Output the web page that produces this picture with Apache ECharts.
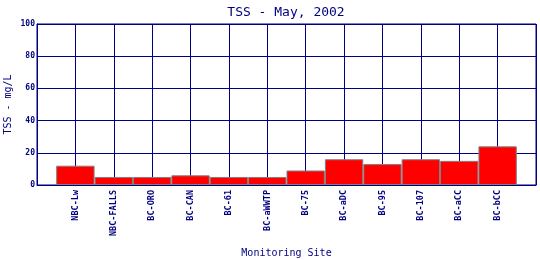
<!DOCTYPE html>
<html><head><meta charset="utf-8">
<script src="https://cdn.jsdelivr.net/npm/echarts@6/dist/echarts.min.js"></script>
<style>html,body{margin:0;padding:0;background:#fff}#c{width:540px;height:260px}</style>
</head><body><div id="c"></div>
<script>
var categories = ['NBC-Lw','NBC-FALLS','BC-ORO','BC-CAN','BC-61','BC-aWWTP','BC-75','BC-aDC','BC-95','BC-107','BC-aCC','BC-bCC'];
var tssValues = [12, 5, 5, 6, 5, 5, 9, 16, 13, 16, 15, 24];
var yTicks = [0, 20, 40, 60, 80, 100];

var navy = '#000080';
var mono = '"DejaVu Sans Mono", monospace';
var axisCats = [''].concat(categories, ['']);
var axisVals = ['-'].concat(tssValues, ['-']);

var chart = echarts.init(document.getElementById('c'), null, {renderer: 'canvas'});
chart.setOption({
  animation: false,
  backgroundColor: '#fff',
  title: {
    text: 'TSS - May, 2002', left: 281, top: 1, textAlign: 'center',
    textStyle: {color: navy, fontFamily: mono, fontSize: 13, fontWeight: 'normal'}
  },
  grid: {left: 37, right: 4, top: 24, bottom: 75, containLabel: false, outerBoundsMode: 'none',
    show: true, borderColor: navy, borderWidth: 1, backgroundColor: '#fff'},
  xAxis: {
    type: 'category', data: axisCats, boundaryGap: false,
    name: 'Monitoring Site', nameLocation: 'middle', nameGap: 63, nameMoveOverlap: false,
    nameTextStyle: {color: navy, fontFamily: mono, fontSize: 10},
    axisLine: {lineStyle: {color: navy, width: 1}},
    axisTick: {show: false},
    axisLabel: {interval: 0, rotate: 90, margin: 5, color: navy, fontFamily: mono, fontSize: 8.5, fontWeight: 'bold'},
    splitLine: {show: true, interval: 0, lineStyle: {color: navy, width: 1}}
  },
  yAxis: {
    type: 'value', min: yTicks[0], max: yTicks[yTicks.length - 1], interval: yTicks[1] - yTicks[0],
    name: 'TSS - mg/L', nameLocation: 'middle', nameGap: 24, nameMoveOverlap: false,
    nameTextStyle: {color: navy, fontFamily: mono, fontSize: 10},
    axisLine: {show: true, lineStyle: {color: navy, width: 1}},
    axisTick: {show: false},
    axisLabel: {margin: 2, color: navy, fontFamily: mono, fontSize: 8, fontWeight: 'bold'},
    splitLine: {show: true, lineStyle: {color: navy, width: 1}}
  },
  series: [{
    type: 'bar', data: axisVals, barWidth: '100%', clip: false,
    itemStyle: {color: '#ff0000', borderColor: '#808080', borderWidth: 1}
  }]
});
</script></body></html>
